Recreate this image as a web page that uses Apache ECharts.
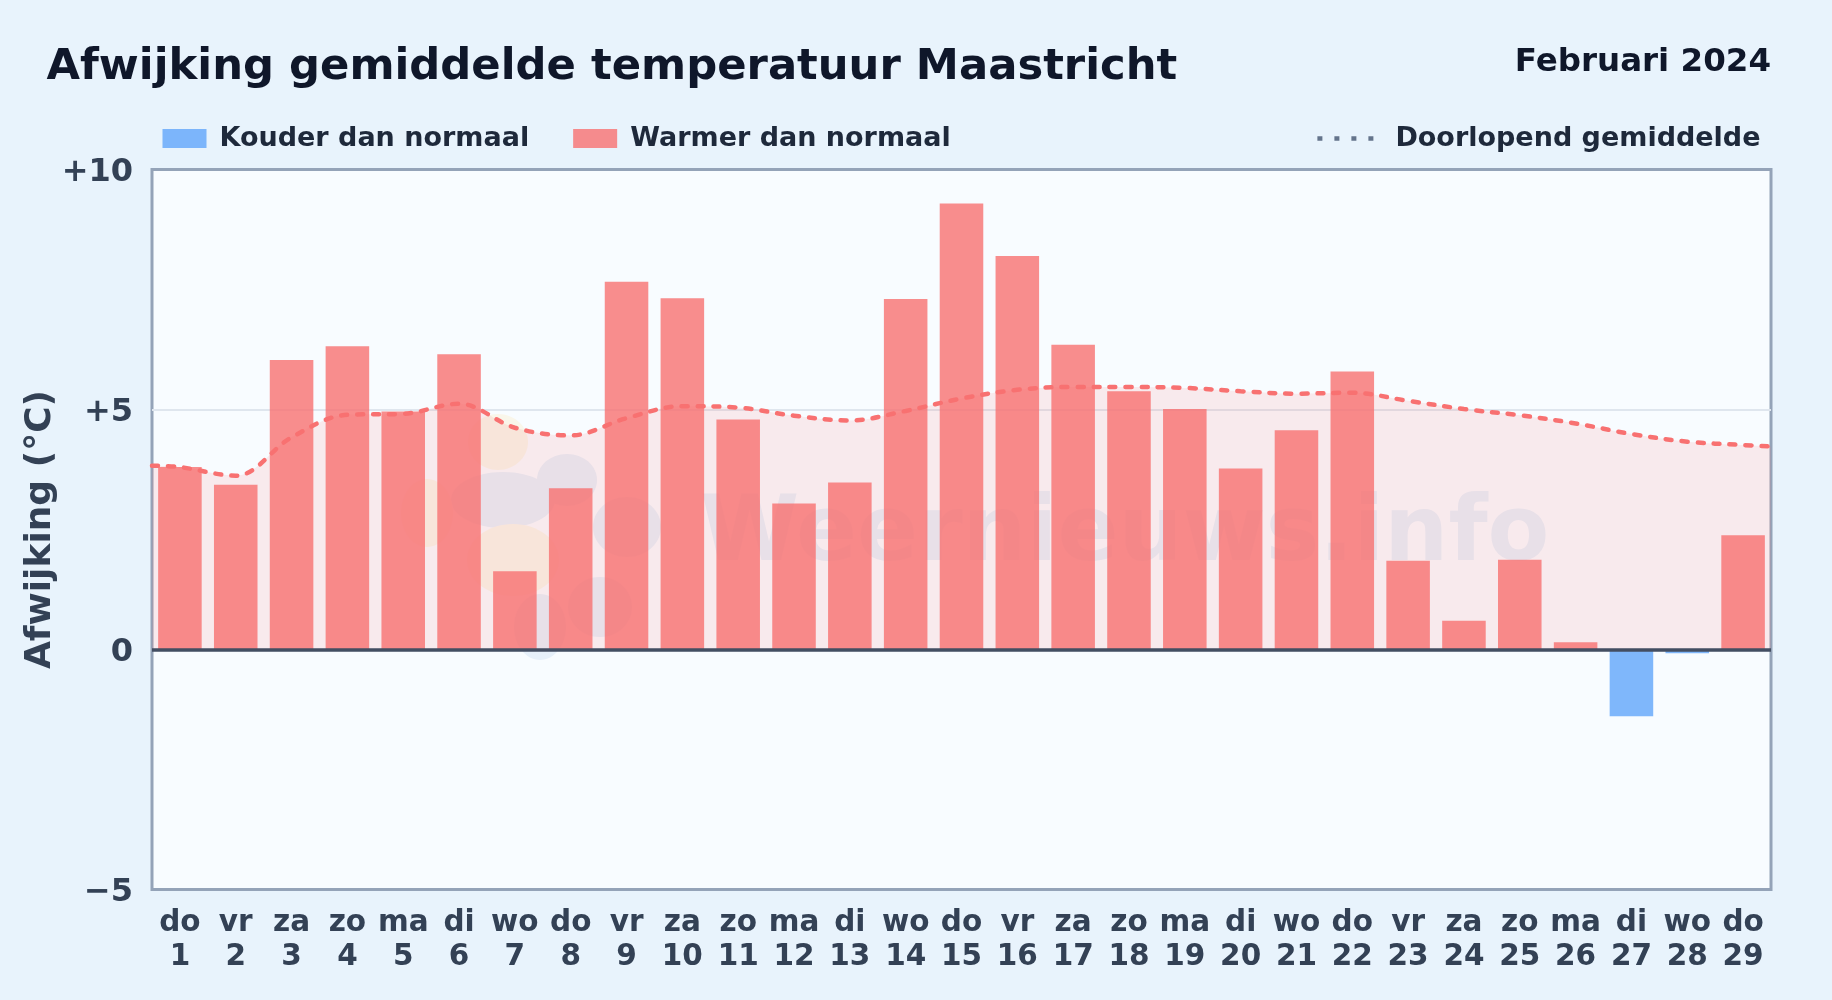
<!DOCTYPE html>
<html><head><meta charset="utf-8">
<style>html,body{margin:0;padding:0;background:#e8f3fc}#c{width:1832px;height:1000px}</style>
<script src="https://cdn.jsdelivr.net/npm/echarts@6/dist/echarts.min.js"></script>
</head><body><div id="c"></div>
<script>
const weekdays=['do','vr','za','zo','ma','di','wo','do','vr','za','zo','ma','di','wo','do','vr','za','zo','ma','di','wo','do','vr','za','zo','ma','di','wo','do'];
const days=[1,2,3,4,5,6,7,8,9,10,11,12,13,14,15,16,17,18,19,20,21,22,23,24,25,26,27,28,29];
const warmValues=[3.8,3.43,6.03,6.32,4.96,6.15,1.63,3.36,7.66,7.32,4.79,3.04,3.48,7.3,9.29,8.2,6.35,5.38,5.01,3.77,4.57,5.79,1.85,0.6,1.87,0.15,null,null,2.38];
const coldValues=[null,null,null,null,null,null,null,null,null,null,null,null,null,null,null,null,null,null,null,null,null,null,null,null,null,null,-1.39,-0.08,null];
const meanX=[0.5,1,2,3,4,5,6,7,8,9,10,11,12,13,14,15,16,17,18,19,20,21,22,23,24,25,26,27,28,29,29.5];
const meanValues=[3.83,3.8,3.62,4.42,4.89,4.91,5.12,4.62,4.46,4.82,5.07,5.04,4.87,4.77,4.97,5.23,5.41,5.47,5.47,5.45,5.38,5.33,5.35,5.18,5.01,4.88,4.71,4.49,4.33,4.26,4.23];
const yTickLabels={'10':'+10','5':'+5','0':'0','-5':'\u22125'};
const titleText='Afwijking gemiddelde temperatuur Maastricht';
const periodText='Februari 2024';
const watermarkText='Weernieuws.info';
const names={cold:'Kouder dan normaal',warm:'Warmer dan normaal',mean:'Doorlopend gemiddelde'};

const FONT='DejaVu Sans';
const chart=echarts.init(document.getElementById('c'),null,{renderer:'canvas'});
const blob=(cx,cy,rx,ry,fill)=>({type:'ellipse',shape:{cx,cy,rx,ry},style:{fill},z:1,silent:true});
const BEIGE='#f9f6ea',BLUE='#e6f0fa';
chart.setOption({
  animation:false,
  backgroundColor:'#e8f3fc',
  title:[
    {text:titleText,left:41.5,top:41,textStyle:{fontFamily:FONT,fontWeight:'bold',fontSize:43.3,color:'#0f172a'}},
    {text:periodText,right:56,top:41,textStyle:{fontFamily:FONT,fontWeight:'bold',fontSize:32.5,color:'#0f172a'}}
  ],
  legend:[
    {left:157.5,top:120,itemWidth:44,itemHeight:19,itemGap:44,
     textStyle:{fontFamily:FONT,fontWeight:'bold',fontSize:27,color:'#1e293b',padding:[0,0,0,8]},
     icon:'rect',data:[names.cold,names.warm]},
    {right:66.5,top:120,itemWidth:58,itemHeight:19,itemGap:10,
     textStyle:{fontFamily:FONT,fontWeight:'bold',fontSize:27,color:'#1e293b',padding:[0,0,0,15]},
     itemStyle:{opacity:0},
     data:[{name:names.mean,itemStyle:{opacity:0},lineStyle:{color:'#64748b',width:4.5,type:[5,12],cap:'butt'}}]}
  ],
  grid:{left:152,right:61,top:169.5,height:720,show:true,backgroundColor:'#f8fcff',borderColor:'#94a3b8',borderWidth:3,z:0},
  xAxis:[
    {type:'category',data:days.map((d,i)=>weekdays[i]+'\n'+d),position:'bottom',
     axisLine:{show:false,onZero:false},axisTick:{show:false},splitLine:{show:false},
     axisLabel:{interval:0,margin:17,lineHeight:34,fontFamily:FONT,fontWeight:'bold',fontSize:29.5,color:'#334155'}},
    {type:'value',min:0.5,max:29.5,show:false,position:'bottom',splitLine:{show:false}}
  ],
  yAxis:{type:'value',min:-5,max:10,interval:5,
    name:'Afwijking (\u00b0C)',nameLocation:'middle',nameRotate:90,nameGap:93,nameMoveOverlap:false,
    nameTextStyle:{fontFamily:FONT,fontWeight:'bold',fontSize:36,color:'#334155'},
    axisLine:{show:false},axisTick:{show:false},
    splitLine:{show:true,showMinLine:false,showMaxLine:false,lineStyle:{color:'#dfe6ee',width:2}},
    axisLabel:{margin:19,verticalAlign:'top',lineHeight:6,fontFamily:FONT,fontWeight:'bold',fontSize:32,color:'#334155',formatter:v=>yTickLabels[String(v)]}
  },
  graphic:{elements:[
    {type:'group',silent:true,z:1,children:[
      blob(498,442,30,28,BEIGE),blob(503,500,52,28,BLUE),blob(513,560,46,36,BEIGE),
      blob(567,480,30,26,BLUE),blob(627,527,34,30,BLUE),blob(600,607,32,30,BLUE),
      blob(540,627,26,33,BLUE),blob(427,513,26,34,BEIGE),
      {type:'text',z:1,style:{x:700,y:537,text:watermarkText,fill:BLUE,fontFamily:FONT,fontWeight:'bold',fontSize:90,textVerticalAlign:'middle'}}
    ]}
  ]},
  series:[
    {name:names.cold,type:'bar',xAxisIndex:0,data:coldValues,barGap:'-100%',barCategoryGap:'22%',z:3,
     itemStyle:{color:'rgba(96,165,250,0.8)'}},
    {name:names.warm,type:'bar',xAxisIndex:0,data:warmValues,barGap:'-100%',barCategoryGap:'22%',z:3,
     itemStyle:{color:'rgba(248,113,113,0.8)'},
     markLine:{silent:true,symbol:'none',label:{show:false},z:6,animation:false,
       lineStyle:{color:'#434e62',width:3.5,type:'solid'},data:[{yAxis:0}]}},
    {name:names.mean,type:'line',xAxisIndex:1,data:meanX.map((x,i)=>[x,meanValues[i]]),smooth:0.35,showSymbol:false,symbol:'none',z:4,
     itemStyle:{color:'#f87171'},
     lineStyle:{color:'#f87171',width:4.5,type:[6,10],cap:'round'},
     areaStyle:{color:'rgba(248,113,113,0.13)',opacity:1,origin:'auto'}}
  ]
});
</script></body></html>
